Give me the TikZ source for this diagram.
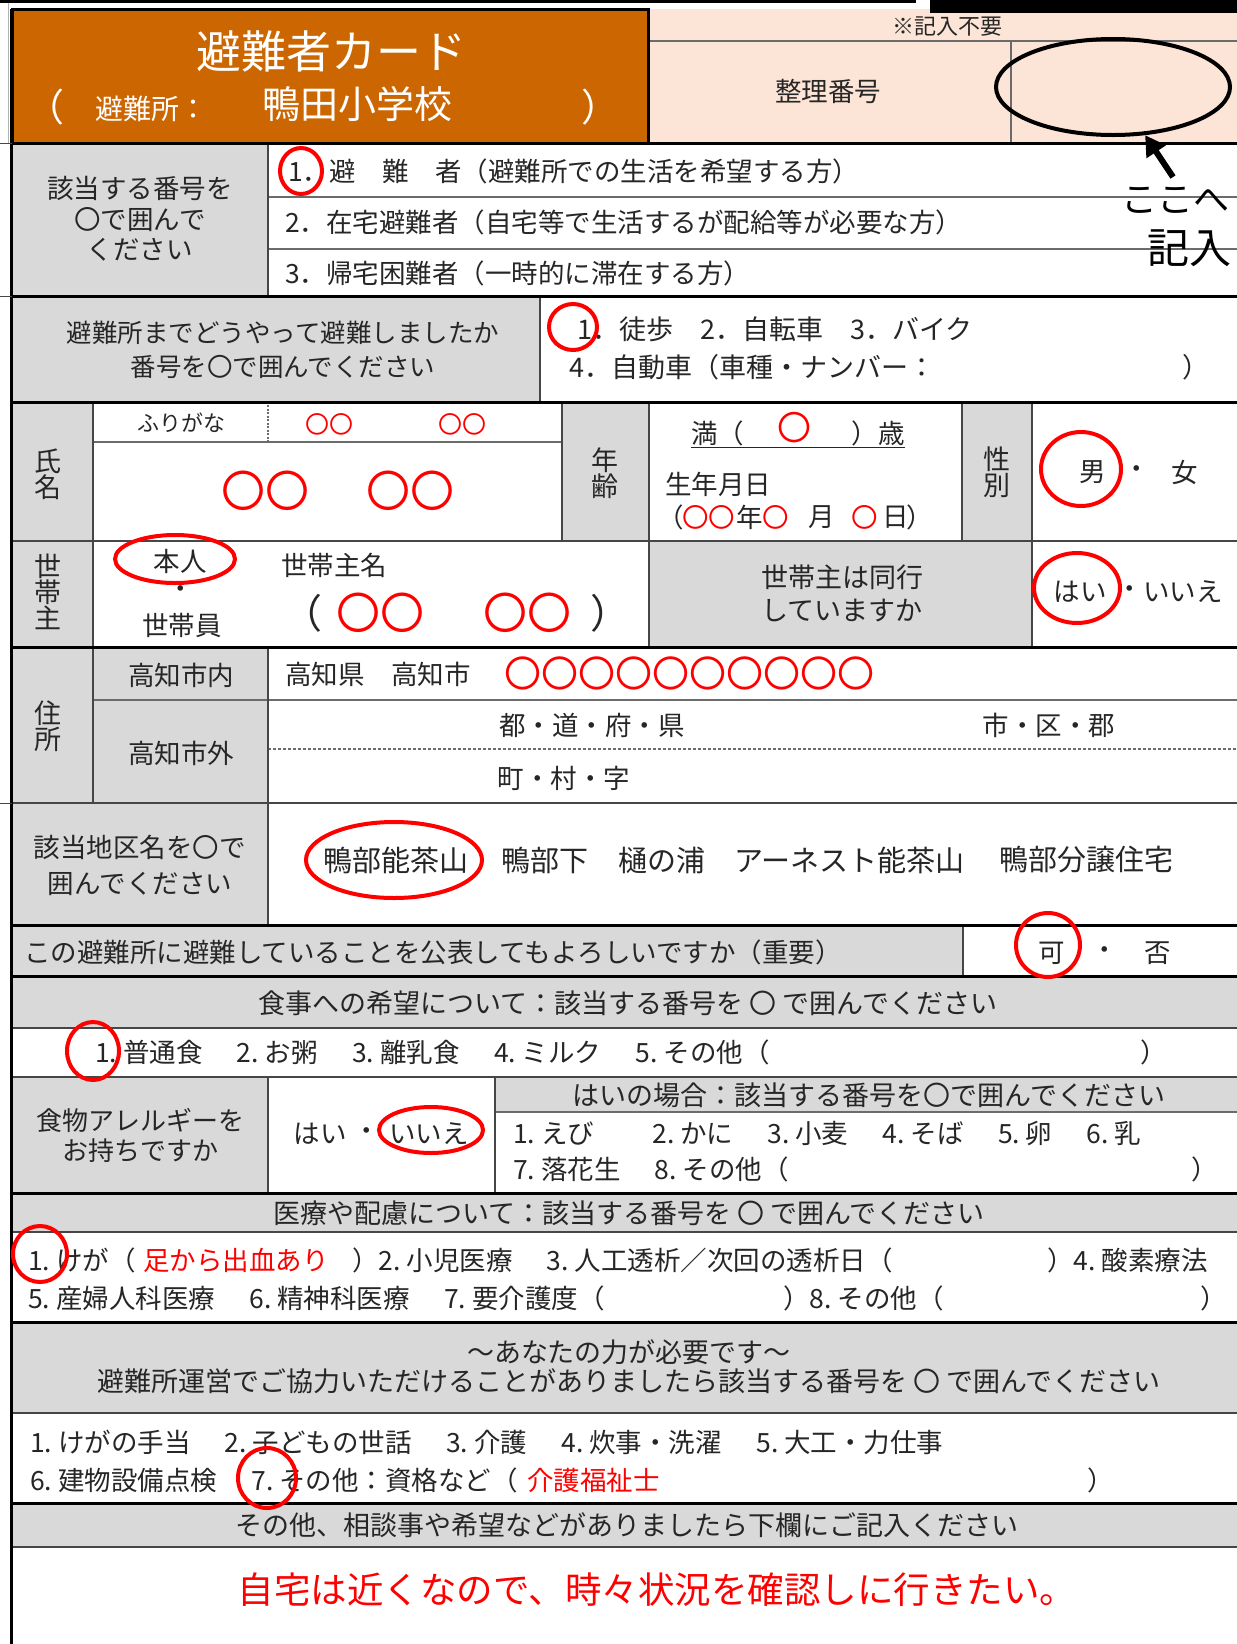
\documentclass[tikz,border=0pt]{standalone}
\usepackage{fontspec}
\setmainfont{Noto Sans CJK JP}
\usetikzlibrary{arrows.meta,shapes.geometric}
\definecolor{cardorange}{RGB}{204,102,0}
\definecolor{cardpink}{RGB}{252,228,214}
\definecolor{cellgray}{RGB}{217,217,217}
\definecolor{ink}{RGB}{38,38,38}
\definecolor{markred}{RGB}{255,0,0}
\definecolor{rulegray}{RGB}{70,70,70}
\newcommand\fs[1]{\fontsize{#1}{#1}\selectfont}
\newcommand\fsl[2]{\fontsize{#1}{#2}\selectfont}
\newcommand\itemno[1]{\makebox[1.05em][l]{#1.}}
\newcommand\itemgap{\hspace{1.3em}}
\begin{document}
\begin{tikzpicture}[x=1pt,y=-1pt,
	txt/.style={inner sep=0pt,text=ink,font=\fs{26.5}},
	redtxt/.style={inner sep=0pt,text=markred,font=\fs{26.5}},
	hdtxt/.style={inner sep=0pt,text=white},
	rulethick/.style={line width=3pt,draw=black},
	rulemid/.style={line width=2pt,draw=rulegray},
	rulethin/.style={line width=1.2pt,draw=rulegray!80},
	redmark/.style={draw=markred,line width=4pt}]
	\useasboundingbox (0,0) rectangle (1237,1644);
	\fill[white] (0,0) rectangle (1237,1644);
	\fill[cardorange] (12,9) rectangle (648,143);
	\fill[cardpink] (648,9) rectangle (1237,143);
	\fill[black] (0,0) rectangle (916,3);
	\fill[black] (930,0) rectangle (1237,13);
	\foreach \a/\b/\c/\d in {12/143/268/296, 12/296/540/402, 12/402/93/803,
		562/402/649/541, 962/402/1032/541, 649/541/1032/647, 93/647/268/803,
		12/803/268/925, 12/925/963/976, 12/976/1237/1028, 12/1077/268/1193,
		495/1077/1237/1112, 12/1193/1237/1232, 12/1322/1237/1413, 12/1503/1237/1547}
		\fill[cellgray] (\a,\b) rectangle (\c,\d);

	\draw[rulethin] (648,41) -- (1237,41);
	\draw[rulethin] (1011,41) -- (1011,143);
	\foreach \y in {197,249}
		\draw[rulethin] (268,\y) -- (1237,\y);
	\draw[rulethin] (93,442) -- (562,442);
	\draw[rulethin] (93,700) -- (1237,700);
	\draw[rulethin] (495,1112) -- (1237,1112);
	\draw[rulethin,dash pattern=on 3pt off 2pt] (268,749) -- (1237,749);
	\draw[rulethin,dash pattern=on 2pt off 1.5pt] (268,405) -- (268,442);
	\foreach \x/\a/\b in {268/143/296, 540/296/402, 93/402/803, 562/402/541,
		649/402/647, 962/402/541, 1032/402/647, 268/647/925, 963/925/976,
		268/1077/1193, 495/1077/1193}
		\draw[rulemid] (\x,\a) -- (\x,\b);
	\foreach \y in {541,803,1028,1077,1232,1413,1547}
		\draw[rulemid] (12,\y) -- (1237,\y);
	\foreach \y in {143,296,402,647,925,976,1193,1322,1503}
		\draw[rulethick] (12,\y) -- (1237,\y);
	\draw[rulethick] (12,9) rectangle (648,143);
	\draw[line width=3.5pt] (11.5,9) -- (11.5,1644);
	\foreach \y in {143,296,803}
		\draw[line width=1pt,rulegray] (0,\y) -- (12,\y);
	\draw[line width=0.8pt,black!30] (8,3) -- (8,143);

	\node[hdtxt,font=\fs{45}] (title) at (331,51) {避難者カード};
	\node[hdtxt,font=\fs{38}] (lpar) at (45,107) {（};
	\node[hdtxt,font=\fs{28}] (shelterlbl) at (151,109) {避難所：};
	\node[hdtxt,font=\fs{38}] (school) at (357,104) {鴨田小学校};
	\node[hdtxt,font=\fs{38}] (rpar) at (600,107) {）};

	\node[txt,font=\fs{22}] (note) at (947,27) {※記入不要};
	\node[txt] (numlbl) at (828,91) {整理番号};
	\node[draw=black,line width=4pt,ellipse,minimum width=234pt,minimum height=96pt,inner sep=0pt] (slot) at (1113,87) {};
	\coordinate (tail) at (1173,177);
	\draw[line width=6pt,-{Triangle[length=20pt,width=22pt]}] (tail) -- (slot);
	\node[txt,text=black,font=\fs{36}] (here) at (1175,200) {ここへ};
	\node[txt,text=black,font=\fs{42}] (write) at (1189,248) {記入};

	\node[txt,align=center,font=\fsl{26.5}{30.5}] (whoq) at (140,219) {該当する番号を\\〇で囲んで\\ください};
	\node[txt,anchor=west] (who1) at (288,171) {1．避　難　者（避難所での生活を希望する方）};
	\node[txt,anchor=west] (who2) at (285,222) {2．在宅避難者（自宅等で生活するが配給等が必要な方）};
	\node[txt,anchor=west] (who3) at (285,273) {3．帰宅困難者（一時的に滞在する方）};

	\node[txt,align=center,font=\fsl{25.5}{34}] (howq) at (283,350) {避難所までどうやって避難しましたか\\番号を〇で囲んでください};
	\node[txt,anchor=west,font=\fs{27}] (how1) at (577,329) {1．徒歩　2．自転車　3．バイク};
	\node[txt,anchor=west,font=\fs{27}] (how2) at (569,367) {4．自動車（車種・ナンバー：};
	\node[txt,anchor=west,font=\fs{27}] (how2e) at (1182,367) {）};

	\node[txt,align=center,font=\fsl{27}{26}] (namelbl) at (48,474) {氏\\名};
	\node[txt,font=\fs{22}] (kana) at (181,423) {ふりがな};
	\node[redtxt,font=\fs{24}] (kana1) at (329,424) {〇〇};
	\node[redtxt,font=\fs{24}] (kana2) at (462,424) {〇〇};
	\node[redtxt,font=\fs{44}] (name1) at (265,491) {〇〇};
	\node[redtxt,font=\fs{44}] (name2) at (410,491) {〇〇};
	\node[txt,align=center,font=\fsl{27}{26}] (agelbl) at (605,473) {年\\齢};
	\node[txt,anchor=west] (agepre) at (691,433) {満（};
	\node[txt,anchor=east] (agepost) at (905,433) {）歳};
	\draw[ink,line width=1.3pt] ([yshift=-2pt]agepre.south west) -- ([yshift=-2pt]agepost.south east);
	\node[redtxt,font=\fs{34}] (agev) at (794,428) {〇};
	\node[txt,anchor=west] (birth) at (665,484) {生年月日};
	\node[txt] (bpar1) at (671,517) {（};
	\node[txt] (byear) at (750,517) {年};
	\node[txt] (bmon) at (822,517) {月};
	\node[txt] (bday) at (896,517) {日};
	\node[txt] (bpar2) at (920,517) {）};
	\foreach \x in {696,722,776,865}
		\node[redtxt] (bd\x) at (\x,517) {〇};
	\node[txt,align=center,font=\fsl{27}{26}] (sexlbl) at (997,472) {性\\別};
	\node[txt] (male) at (1093,472) {男};
	\node[txt] (sexdot) at (1137,472) {・};
	\node[txt] (female) at (1185,472) {女};

	\node[txt,align=center,font=\fsl{27}{26}] (headlbl) at (48,592) {世\\帯\\主};
	\node[txt] (self) at (180,561) {本人};
	\node[txt] (selfdot) at (181,592) {・};
	\node[txt] (member) at (182,625) {世帯員};
	\node[txt,anchor=west] (headname) at (281,565) {世帯主名};
	\node[txt,font=\fs{40}] (hpar1) at (302,613) {（};
	\node[redtxt,font=\fs{44}] (head1) at (380,613) {〇〇};
	\node[redtxt,font=\fs{44}] (head2) at (527,613) {〇〇};
	\node[txt,font=\fs{40}] (hpar2) at (610,613) {）};
	\node[txt,align=center,font=\fsl{27}{33}] (withq) at (842,593) {世帯主は同行\\していますか};
	\node[txt] (yes1) at (1080,592) {はい};
	\node[txt] (yesdot1) at (1130,592) {・};
	\node[txt] (no1) at (1183,592) {いいえ};

	\node[txt,align=center,font=\fsl{27}{26}] (addrlbl) at (48,726) {住\\所};
	\node[txt] (incity) at (181,675) {高知市内};
	\node[txt] (outcity) at (181,753) {高知市外};
	\node[txt,anchor=west] (addr) at (285,674) {高知県　高知市};
	\node[redtxt,font=\fs{37}] (addrv) at (689,673) {〇〇〇〇〇〇〇〇〇〇};
	\node[txt] (pref) at (592,725) {都・道・府・県};
	\node[txt] (city) at (1049,725) {市・区・郡};
	\node[txt] (town) at (564,778) {町・村・字};

	\node[txt,align=center,font=\fsl{26.5}{36}] (areaq) at (140,865) {該当地区名を〇で\\囲んでください};
	\node[txt,font=\fs{29}] (area1) at (396,860) {鴨部能茶山};
	\node[txt,font=\fs{29},anchor=west] (area2) at (501,860) {鴨部下};
	\node[txt,font=\fs{29},anchor=west] (area3) at (618,860) {樋の浦};
	\node[txt,font=\fs{29},anchor=west] (area4) at (734,860) {アーネスト能茶山};
	\node[txt,font=\fs{29},anchor=west] (area5) at (999,860) {鴨部分譲住宅};

	\node[txt,anchor=west] (publicq) at (24,952) {この避難所に避難していることを公表してもよろしいですか（重要）};
	\node[txt] (ok) at (1052,953) {可};
	\node[txt] (okdot) at (1105,953) {・};
	\node[txt] (ng) at (1158,953) {否};

	\node[txt,font=\fs{27}] (mealq) at (628,1003) {食事への希望について：該当する番号を 〇 で囲んでください};
	\node[txt,anchor=west] (meal) at (95,1052) {\itemno{1}普通食\itemgap\itemno{2}お粥\itemgap\itemno{3}離乳食\itemgap\itemno{4}ミルク\itemgap\itemno{5}その他（};
	\node[txt,anchor=west] (meale) at (1140,1052) {）};

	\node[txt,align=center,font=\fsl{26}{30}] (allergyq) at (140,1135) {食物アレルギーを\\お持ちですか};
	\node[txt] (yes2) at (320,1134) {はい};
	\node[txt] (yesdot2) at (367,1134) {・};
	\node[txt] (no2) at (429,1134) {いいえ};
	\node[txt,font=\fs{27}] (ifyes) at (869,1095) {はいの場合：該当する番号を〇で囲んでください};
	\node[txt,anchor=west] (allergy1) at (513,1133) {\itemno{1}えび\hspace{2.2em}\itemno{2}かに\itemgap\itemno{3}小麦\itemgap\itemno{4}そば\itemgap\itemno{5}卵\itemgap\itemno{6}乳};
	\node[txt,anchor=west] (allergy2) at (513,1169) {\itemno{7}落花生\itemgap\itemno{8}その他（};
	\node[txt,anchor=west] (allergy2e) at (1191,1169) {）};

	\node[txt,font=\fs{27}] (careq) at (629,1213) {医療や配慮について：該当する番号を 〇 で囲んでください};
	\node[txt,anchor=west] (care1a) at (28,1260) {\itemno{1}けが（};
	\node[redtxt,anchor=west] (care1r) at (143,1260) {足から出血あり};
	\node[txt,anchor=west] (care1b) at (352,1260) {）\itemno{2}小児医療\itemgap\itemno{3}人工透析／次回の透析日（};
	\node[txt,anchor=west] (care1c) at (1047,1260) {）\itemno{4}酸素療法};
	\node[txt,anchor=west] (care2a) at (28,1298) {\itemno{5}産婦人科医療\itemgap\itemno{6}精神科医療\itemgap\itemno{7}要介護度（};
	\node[txt,anchor=west] (care2b) at (783,1298) {）\itemno{8}その他（};
	\node[txt,anchor=west] (care2c) at (1200,1298) {）};

	\node[txt,align=center,font=\fsl{27}{29}] (helpq) at (629,1367) {〜あなたの力が必要です〜\\避難所運営でご協力いただけることがありましたら該当する番号を 〇 で囲んでください};
	\node[txt,anchor=west] (help1) at (30,1442) {\itemno{1}けがの手当\itemgap\itemno{2}子どもの世話\itemgap\itemno{3}介護\itemgap\itemno{4}炊事・洗濯\itemgap\itemno{5}大工・力仕事};
	\node[txt,anchor=west] (help2) at (30,1480) {\itemno{6}建物設備点検\itemgap\itemno{7}その他：資格など（};
	\node[redtxt,anchor=west] (help2r) at (527,1480) {介護福祉士};
	\node[txt,anchor=west] (help2e) at (1087,1480) {）};

	\node[txt,font=\fs{27}] (otherq) at (627,1525) {その他、相談事や希望などがありましたら下欄にご記入ください};
	\node[redtxt,font=\fs{36.5}] (memo) at (657,1590) {自宅は近くなので、時々状況を確認しに行きたい。};

	\foreach \x/\y/\a/\b in {301/171/21/23, 573/327/24/23, 1081/469/40/37,
		175/559/60/24, 1077/588/43/35, 394/860/88/38, 1048/945/32/32,
		93/1051/26/29, 431/1130/52/23, 40/1254/27/28, 267/1478/29/30}
		\draw[redmark] (\x,\y) ellipse [x radius=\a, y radius=\b];
\end{tikzpicture}
\end{document}
